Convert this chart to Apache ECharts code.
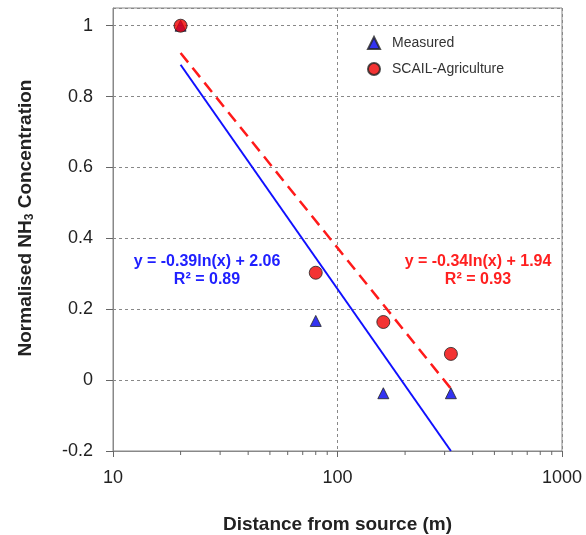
<!DOCTYPE html>
<html>
<head>
<meta charset="utf-8">
<script src="https://cdn.jsdelivr.net/npm/echarts@6/dist/echarts.min.js"></script>
<style>html,body{margin:0;padding:0;background:#fff;}#c{width:586px;height:535px;}</style>
</head>
<body>
<div id="c"></div>
<script>
// Data
const measuredX = [20, 80, 160, 320];
const measuredY = [1.0, 0.167, -0.037, -0.037];
const scailX = [20, 80, 160, 320];
const scailY = [1.0, 0.303, 0.164, 0.074];
// Trend line end points (as drawn in the picture)
const measuredTrendX = [20, 320];
const measuredTrendY = [0.89, -0.2];
const scailTrendX = [20, 320];
const scailTrendY = [0.923, -0.024];
const minorTickValues = [20, 30, 40, 50, 60, 70, 80, 90, 200, 300, 400, 500, 600, 700, 800, 900];
const yTicks = [-0.2, 0, 0.2, 0.4, 0.6, 0.8, 1];

const zip = (a, b) => a.map((v, i) => [v, b[i]]);
const FONT = '"Liberation Sans", Arial, sans-serif';

const chart = echarts.init(document.getElementById('c'), null, {renderer: 'canvas'});
chart.setOption({
  animation: false,
  backgroundColor: '#fff',
  grid: {left: 113, right: 24, top: 8, bottom: 84, show: true, borderColor: '#888', borderWidth: 1,
    containLabel: false, outerBoundsMode: 'none'},
  legend: {
    orient: 'vertical', left: 362, top: 31,
    itemWidth: 12, itemHeight: 12, itemGap: 12,
    data: ['Measured', 'SCAIL-Agriculture'],
    textStyle: {fontFamily: FONT, fontSize: 14, color: '#333', padding: [0, 0, 0, 7]}
  },
  xAxis: {
    type: 'log', logBase: 10, min: 10, max: 1000,
    name: 'Distance from source (m)', nameLocation: 'middle', nameGap: 64,
    nameTextStyle: {fontFamily: FONT, fontSize: 19, fontWeight: 'bold', color: '#222'},
    axisLine: {onZero: false, lineStyle: {color: '#888'}},
    axisTick: {show: true, length: 6, lineStyle: {color: '#666'}},
    axisLabel: {fontFamily: FONT, fontSize: 18, color: '#222', margin: 18, formatter: v => String(Math.round(v))},
    splitLine: {show: true, lineStyle: {color: '#888', type: [3, 3]}},
    minorTick: {show: false}
  },
  yAxis: {
    type: 'value', min: -0.2, max: 1.05, interval: 0.2,
    axisLine: {show: true, onZero: false, lineStyle: {color: '#888'}},
    axisTick: {show: true, length: 7, lineStyle: {color: '#666'}},
    axisLabel: {
      fontFamily: FONT, fontSize: 18, color: '#222', margin: 20, showMaxLabel: false,
      formatter: v => {
        const t = yTicks.find(k => Math.abs(k - v) < 1e-9);
        return t === undefined ? '' : String(t);
      }
    },
    splitLine: {show: true, lineStyle: {color: '#888', type: [3, 3]}}
  },
  graphic: [
    {type: 'text', x: 26, y: 218, rotation: Math.PI / 2, z: 10,
      style: {
        text: '{a|Normalised NH}{s|3}{a| Concentration}',
        align: 'center', verticalAlign: 'middle',
        rich: {
          a: {fontFamily: FONT, fontSize: 19, fontWeight: 'bold', fill: '#222'},
          s: {fontFamily: FONT, fontSize: 12, fontWeight: 'bold', fill: '#222', padding: [8, 0, 0, 0]}
        }
      }},
    {type: 'text', x: 207, y: 262, z: 10,
      style: {text: 'y = -0.39ln(x) + 2.06', align: 'center', verticalAlign: 'middle',
        font: 'bold 16px ' + FONT, fill: '#2020ff'}},
    {type: 'text', x: 207, y: 280, z: 10,
      style: {text: 'R² = 0.89', align: 'center', verticalAlign: 'middle',
        font: 'bold 16px ' + FONT, fill: '#2020ff'}},
    {type: 'text', x: 478, y: 262, z: 10,
      style: {text: 'y = -0.34ln(x) + 1.94', align: 'center', verticalAlign: 'middle',
        font: 'bold 16px ' + FONT, fill: '#ff2020'}},
    {type: 'text', x: 478, y: 280, z: 10,
      style: {text: 'R² = 0.93', align: 'center', verticalAlign: 'middle',
        font: 'bold 16px ' + FONT, fill: '#ff2020'}}
  ],
  series: [
    {
      type: 'custom', name: 'minorTicks', silent: true, z: 1,
      data: minorTickValues.map(v => [v, -0.2]),
      renderItem: (params, api) => {
        const p = api.coord([api.value(0), api.value(1)]);
        return {type: 'line', shape: {x1: p[0], y1: p[1], x2: p[0], y2: p[1] + 4},
          style: {stroke: '#666', lineWidth: 1}};
      }
    },
    {
      type: 'line', name: 'Measured trend', data: zip(measuredTrendX, measuredTrendY),
      symbol: 'none', z: 2, lineStyle: {color: '#1010ff', width: 2}
    },
    {
      type: 'line', name: 'SCAIL trend', data: zip(scailTrendX, scailTrendY),
      symbol: 'none', z: 2, lineStyle: {color: '#ff1a1a', width: 2.5, type: [12, 7]}
    },
    {
      type: 'scatter', name: 'Measured', data: zip(measuredX, measuredY),
      symbol: 'triangle', symbolSize: 11, z: 3,
      itemStyle: {color: '#0000ee', borderColor: '#222', borderWidth: 1}
    },
    {
      type: 'scatter', name: 'SCAIL-Agriculture', data: zip(scailX, scailY),
      symbol: 'circle', symbolSize: 13, z: 4,
      itemStyle: {color: '#f00000', borderColor: '#222', borderWidth: 1}
    }
  ]
});
</script>
</body>
</html>
